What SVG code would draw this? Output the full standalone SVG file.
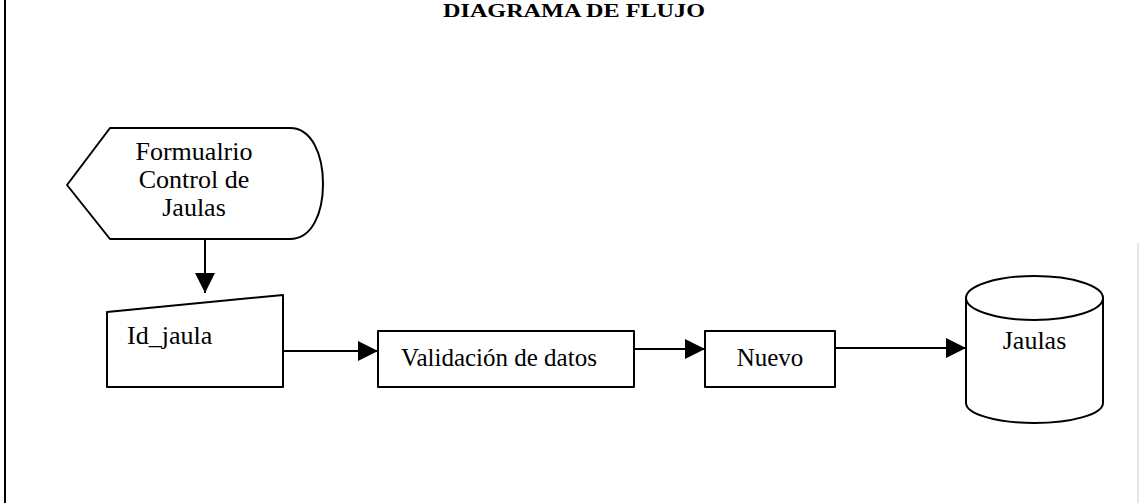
<svg xmlns="http://www.w3.org/2000/svg" width="1139" height="503" viewBox="0 0 1139 503">
<style>
.shape{fill:#fff;stroke:#000;stroke-width:2;stroke-linejoin:round}
.conn{fill:none;stroke:#000;stroke-width:2}
.lbl{font-family:"Liberation Serif","Times New Roman",serif;font-size:25px;fill:#000}
.title{font-family:"Liberation Serif","Times New Roman",serif;font-size:19px;font-weight:bold;fill:#000}
</style>
<defs>
<marker id="arr" markerUnits="userSpaceOnUse" markerWidth="20" markerHeight="20" refX="20" refY="10" orient="auto">
<path d="M0,0 L20,10 L0,20 z" fill="#000"/>
</marker>
</defs>
<rect x="0" y="0" width="1139" height="503" fill="#fff"/>
<line x1="5" y1="0" x2="5" y2="503" stroke="#000" stroke-width="2"/>
<line x1="1138" y1="243" x2="1138" y2="503" stroke="#ccc" stroke-width="1"/>
<text class="title" x="443" y="17" textLength="262" lengthAdjust="spacingAndGlyphs">DIAGRAMA DE FLUJO</text>
<g id="connectors">
<line class="conn" x1="205" y1="239" x2="205" y2="293" marker-end="url(#arr)"/>
<line class="conn" x1="283" y1="351" x2="378" y2="351" marker-end="url(#arr)"/>
<line class="conn" x1="634" y1="349" x2="705" y2="349" marker-end="url(#arr)"/>
<line class="conn" x1="835" y1="348" x2="966" y2="348" marker-end="url(#arr)"/>
</g>
<g id="formulario">
<path class="shape" d="M67,185 L110,128 L290,128 C312,128 323,155 323,184 C323,213 312,239 290,239 L110,239 Z"/>
<text class="lbl" x="194" y="160" text-anchor="middle" style="font-size:26px">Formualrio</text>
<text class="lbl" x="194" y="188" text-anchor="middle" style="font-size:26px">Control de</text>
<text class="lbl" x="194" y="216" text-anchor="middle" style="font-size:26px">Jaulas</text>
</g>
<g id="id_jaula">
<path class="shape" d="M107,312 L283,295 L283,387 L107,387 Z"/>
<text class="lbl" x="127" y="344" style="font-size:26px">Id_jaula</text>
</g>
<g id="validacion">
<rect class="shape" x="378" y="331" width="256" height="56"/>
<text class="lbl" x="499" y="366" text-anchor="middle">Validación de datos</text>
</g>
<g id="nuevo">
<rect class="shape" x="705" y="331" width="130" height="56"/>
<text class="lbl" x="770" y="366" text-anchor="middle">Nuevo</text>
</g>
<g id="jaulas">
<path class="shape" d="M966,298 L966,403 A68.5,20 0 0 0 1103,403 L1103,298"/>
<ellipse class="shape" cx="1034.5" cy="298" rx="68.5" ry="22"/>
<text class="lbl" x="1034.5" y="349" text-anchor="middle" style="font-size:26px">Jaulas</text>
</g>
</svg>
